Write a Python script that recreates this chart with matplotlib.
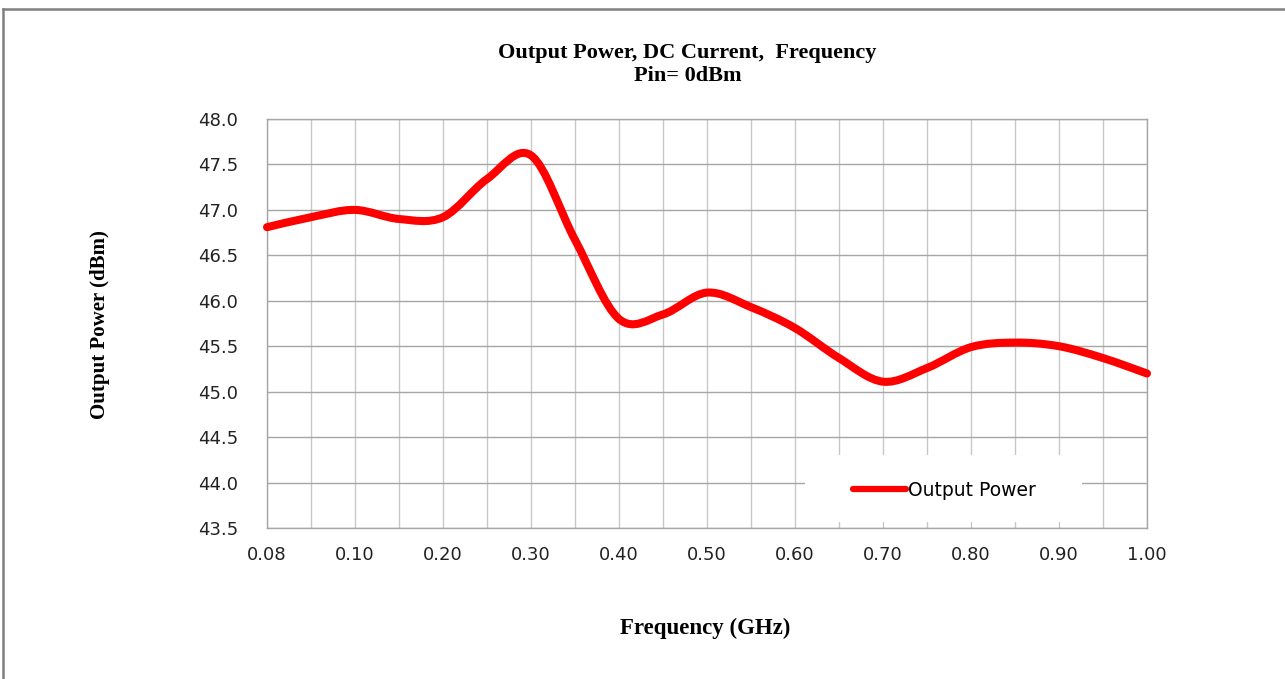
import matplotlib
matplotlib.use("Agg")
import matplotlib.pyplot as plt
from matplotlib.path import Path
from matplotlib.patches import PathPatch, Rectangle
from matplotlib.lines import Line2D

# ── Data ──────────────────────────────────────────────────────────────────────

# Excel category axis: every other category label is hidden
FREQ_LABELS = [
    "0.08", "0.09", "0.10", "0.15", "0.20", "0.25", "0.30", "0.35", "0.40",
    "0.45", "0.50", "0.55", "0.60", "0.65", "0.70", "0.75", "0.80", "0.85",
    "0.90", "0.95", "1.00",
]
POUT_DBM = [
    46.81, 46.92, 47.00, 46.90, 46.92, 47.34, 47.60, 46.67, 45.80, 45.85,
    46.09, 45.93, 45.70, 45.37, 45.11, 45.26, 45.49, 45.54, 45.50, 45.37,
    45.20,
]
Y_TICKS = [43.5, 44.0, 44.5, 45.0, 45.5, 46.0, 46.5, 47.0, 47.5, 48.0]

RED = "#ff0000"
TICK_FONT = ["DejaVu Sans"]
SERIF_FONT = ["Liberation Serif", "DejaVu Serif"]

# ── Plot ──────────────────────────────────────────────────────────────────────

fig = plt.figure(figsize=(12.85, 6.79), dpi=100)
ax = fig.add_axes([0.2078, 0.2224, 0.6848, 0.6023])

xs = list(range(len(POUT_DBM)))
ys = POUT_DBM

# smoothed line like Excel: cubic Bezier segments through each point
verts = [(xs[0], ys[0])]
codes = [Path.MOVETO]
n = len(xs)
for i in range(n - 1):
    p0 = i - 1 if i > 0 else 0
    p3 = i + 2 if i + 2 < n else n - 1
    c1 = (xs[i] + (xs[i + 1] - xs[p0]) / 6, ys[i] + (ys[i + 1] - ys[p0]) / 6)
    c2 = (xs[i + 1] - (xs[p3] - xs[i]) / 6, ys[i + 1] - (ys[p3] - ys[i]) / 6)
    verts += [c1, c2, (xs[i + 1], ys[i + 1])]
    codes += [Path.CURVE4] * 3

curve = PathPatch(Path(verts, codes), fill=False, edgecolor=RED, linewidth=5.8,
                  capstyle="round", joinstyle="round", zorder=3, clip_on=False)
ax.add_patch(curve)

ax.set_xlim(0, n - 1)
ax.set_ylim(43.5, 48.0)
ax.set_xticks(xs)
ax.set_xticklabels([lab if i % 2 == 0 else "" for i, lab in enumerate(FREQ_LABELS)],
                   family=TICK_FONT, fontsize=13)
ax.set_yticks(Y_TICKS)
ax.set_yticklabels([f"{v:.1f}" for v in Y_TICKS], family=TICK_FONT, fontsize=13)
ax.tick_params(axis="both", length=0, colors="#222222")
ax.tick_params(axis="x", pad=13)
ax.tick_params(axis="y", pad=21)

ax.set_axisbelow(True)
ax.yaxis.grid(True, color="#a6a6a6", linewidth=1.0)
ax.xaxis.grid(True, color="#c8c8c8", linewidth=1.0)
for sp in ax.spines.values():
    sp.set_color("#a6a6a6")
    sp.set_linewidth(1.0)

# legend sits on a white patch that hides the gridlines
ax.add_patch(Rectangle((0.611, 0.015), 0.315, 0.163, transform=ax.transAxes,
                       facecolor="white", edgecolor="none", zorder=1))
handle = Line2D([], [], color=RED, linewidth=4.5, solid_capstyle="round")
ax.legend([handle], ["Output Power"], loc="center", bbox_to_anchor=(0.770, 0.092),
          frameon=False, handlelength=2.8, handletextpad=0.15,
          prop={"family": TICK_FONT, "size": 13.5})

fig.text(0.535, 0.922, "Output Power, DC Current,  Frequency", ha="center", va="center",
         family=SERIF_FONT, fontweight="bold", fontsize=16)
fig.text(0.535, 0.888, "Pin= 0dBm", ha="center", va="center",
         family=SERIF_FONT, fontweight="bold", fontsize=16)
fig.text(0.078, 0.522, "Output Power (dBm)", ha="center", va="center", rotation=90,
         family=SERIF_FONT, fontweight="bold", fontsize=15)
fig.text(0.549, 0.075, "Frequency (GHz)", ha="center", va="center",
         family=SERIF_FONT, fontweight="bold", fontsize=16.5)

# outer chart border (top and left edges only)
fig.add_artist(Line2D([2.5 / 1285, 1.0], [1 - 8.5 / 679] * 2, color="#808080",
                      linewidth=1.8, transform=fig.transFigure))
fig.add_artist(Line2D([2.5 / 1285] * 2, [0.0, 1 - 8.5 / 679], color="#808080",
                      linewidth=1.8, transform=fig.transFigure))

fig.savefig("out.png", dpi=100)
